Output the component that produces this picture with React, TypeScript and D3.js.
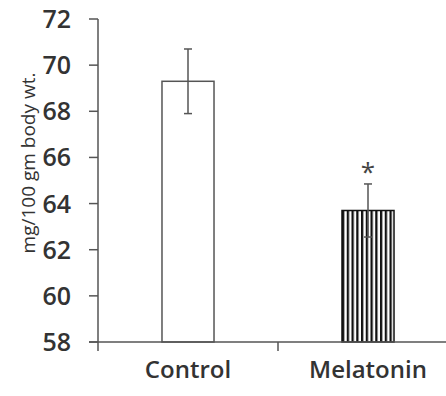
import React from 'react';
import * as d3 from 'd3';

// group means and standard errors (mg/100 gm body wt.)
const groups = ['Control', 'Melatonin'];
const means = [69.3, 63.7];
const errors = [1.4, 1.15];
const significant = [false, true];
const yTicks = [58, 60, 62, 64, 66, 68, 70, 72];

const W = 446;
const H = 396;
const axisColor = '#555';
const textColor = '#333';

export default function App() {
    const margin = { top: 19, left: 98, bottom: 54 };
    const y = d3.scaleLinear().domain([58, 72]).range([H - margin.bottom, margin.top]);
    const x = d3.scaleBand<string>()
        .domain(groups)
        .range([margin.left, margin.left + 360])
        .paddingInner(0.711)
        .paddingOuter(0.3555);
    const step = x.step();
    const barW = x.bandwidth();
    const y0 = y(58);

    return (
        <svg width={W} height={H} style={{ position: 'absolute', left: 0, top: 0, background: '#fff' }}>
            <defs>
                <pattern id="stripes" width={4.75} height={10} patternUnits="userSpaceOnUse"
                    x={x('Melatonin')}>
                    <rect width={4.75} height={10} fill="#fff" />
                    <rect x={0} width={2.3} height={10} fill="#111" />
                </pattern>
            </defs>

            {/* y axis */}
            <line x1={margin.left} x2={margin.left} y1={y(72)} y2={y0} stroke={axisColor} strokeWidth={1.5} />
            {yTicks.map((t) => (
                <g key={t}>
                    <line x1={margin.left - 9} x2={margin.left} y1={y(t)} y2={y(t)} stroke={axisColor} strokeWidth={1.5} />
                    <text x={71} y={y(t)} dy="0.36em" textAnchor="end"
                        fontFamily="'Open Sans', sans-serif" fontSize={25} fontWeight={600} fill={textColor}>
                        {t}
                    </text>
                </g>
            ))}
            <text transform={`translate(35,163) rotate(-90)`} textAnchor="middle"
                fontFamily="'Open Sans', sans-serif" fontSize={19} fill={textColor}>
                mg/100 gm body wt.
            </text>

            {/* bars */}
            {groups.map((g, i) => {
                const bx = x(g) as number;
                const cx = bx + barW / 2;
                return (
                    <g key={g}>
                        <rect x={bx} y={y(means[i])} width={barW} height={y0 - y(means[i])}
                            fill={i === 0 ? '#fff' : 'url(#stripes)'} stroke={i === 0 ? '#555' : '#111'} strokeWidth={1.5} />
                        <line x1={cx} x2={cx} y1={y(means[i] + errors[i])} y2={y(means[i] - errors[i])} stroke={axisColor} strokeWidth={1.5} />
                        <line x1={cx - 4} x2={cx + 4} y1={y(means[i] + errors[i])} y2={y(means[i] + errors[i])} stroke={axisColor} strokeWidth={1.5} />
                        <line x1={cx - 4} x2={cx + 4} y1={y(means[i] - errors[i])} y2={y(means[i] - errors[i])} stroke={axisColor} strokeWidth={1.5} />
                        {significant[i] && (
                            <text x={cx} y={y(means[i] + errors[i]) - 3} textAnchor="middle"
                                fontFamily="'Open Sans', sans-serif" fontSize={26} fill="#444">*</text>
                        )}
                        <text x={cx} y={378} textAnchor="middle"
                            fontFamily="'Open Sans', sans-serif" fontSize={24} fontWeight={600} fill={textColor}>
                            {g}
                        </text>
                    </g>
                );
            })}

            {/* x axis */}
            <line x1={margin.left - 9} x2={W} y1={y0} y2={y0} stroke={axisColor} strokeWidth={1.5} />
            {groups.map((g, i) => (
                <line key={g} x1={margin.left + i * step} x2={margin.left + i * step} y1={y0} y2={y0 + 9}
                    stroke={axisColor} strokeWidth={1.5} />
            ))}
        </svg>
    );
}
